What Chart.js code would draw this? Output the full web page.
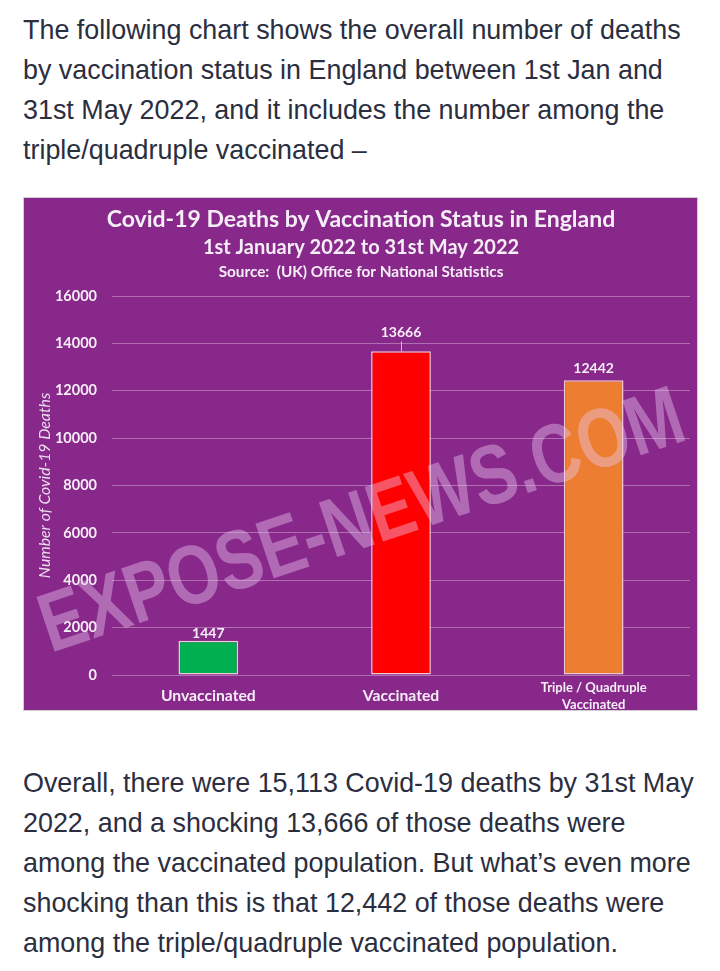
<!DOCTYPE html>
<html>
<head>
<meta charset="utf-8">
<script src="https://cdn.jsdelivr.net/npm/chart.js@4/dist/chart.umd.min.js"></script>
<style>
  html, body { margin: 0; padding: 0; background: #ffffff; }
  body { width: 720px; height: 971px; position: relative; overflow: hidden; }
  .txt {
    position: absolute; left: 23px; margin: 0;
    font-family: "Liberation Sans", Arial, sans-serif;
    font-size: 26.9px; line-height: 40px; color: #2b2e3f; white-space: nowrap;
  }
  #p1 { top: 10px; }
  #p2 { top: 763px; }
  #box {
    position: absolute; left: 23px; top: 197px; width: 673px; height: 512px;
    border: 1px solid #cfcfcf; background: #87288a;
  }
  #box canvas { display: block; }
</style>
</head>
<body>
<p class="txt" id="p1">The following chart shows the overall number of deaths<br>by vaccination status in England between 1st Jan and<br>31st May 2022, and it includes the number among the<br>triple/quadruple vaccinated –</p>
<div id="box"><canvas id="c" width="673" height="512"></canvas></div>
<p class="txt" id="p2">Overall, there were 15,113 Covid-19 deaths by 31st May<br>2022, and a shocking 13,666 of those deaths were<br>among the vaccinated population. But what’s even more<br>shocking than this is that 12,442 of those deaths were<br>among the triple/quadruple vaccinated population.</p>
<script>
// ---- data ----
const categories = ["Unvaccinated", "Vaccinated", ["Triple / Quadruple", "Vaccinated"]];
const deaths = [1447, 13666, 12442];
const barColors = ["#00b050", "#ff0000", "#ed7d31"];
const titleLines = [
  "Covid-19 Deaths by Vaccination Status in England",
  "1st January 2022 to 31st May 2022",
  "Source:  (UK) Office for National Statistics"
];
const yAxisTitle = "Number of Covid-19 Deaths";
const watermarkText = "EXPOSE-NEWS.COM";

const FONT = "Lato, 'Open Sans', sans-serif";
const TXT = "#f6eef6";

const headerPlugin = {
  id: "header",
  afterDraw(chart) {
    const ctx = chart.ctx;
    const cx = chart.width / 2 + 0.5;
    const specs = [
      { size: 23, y: 22 },
      { size: 20, y: 50 },
      { size: 15.3, y: 74 }
    ];
    ctx.save();
    ctx.fillStyle = TXT;
    ctx.textAlign = "center";
    ctx.textBaseline = "middle";
    titleLines.forEach((t, i) => {
      ctx.font = "bold " + specs[i].size + "px " + FONT;
      ctx.fillText(t, cx, specs[i].y);
    });
    ctx.restore();
  }
};

const valueLabelPlugin = {
  id: "valueLabels",
  afterDatasetsDraw(chart, args, opts) {
    const ctx = chart.ctx;
    const meta = chart.getDatasetMeta(0);
    const offs = opts.offsets || [];
    ctx.save();
    ctx.fillStyle = TXT;
    ctx.font = "bold 14px " + FONT;
    ctx.textAlign = "center";
    ctx.textBaseline = "middle";
    meta.data.forEach((bar, i) => {
      const off = offs[i] || 10;
      const v = chart.data.datasets[0].data[i];
      ctx.fillText(String(v), bar.x, bar.y - off);
      if (off > 15) {
        ctx.strokeStyle = "rgba(255,230,240,0.7)";
        ctx.lineWidth = 1;
        ctx.beginPath();
        ctx.moveTo(bar.x + 0.5, bar.y - off + 9);
        ctx.lineTo(bar.x + 0.5, bar.y);
        ctx.stroke();
      }
    });
    ctx.restore();
  }
};

const watermarkPlugin = {
  id: "watermark",
  afterDraw(chart) {
    const ctx = chart.ctx;
    ctx.save();
    ctx.translate(346, 348);
    ctx.rotate(-18.5 * Math.PI / 180);
    ctx.scale(1, 1.25);
    ctx.font = "bold 67px 'Liberation Sans', Arial, sans-serif";
    ctx.textAlign = "center";
    ctx.textBaseline = "alphabetic";
    ctx.fillStyle = "rgba(235, 200, 240, 0.42)";
    ctx.fillText(watermarkText, 0, 0);
    ctx.restore();
  }
};

new Chart(document.getElementById("c"), {
  type: "bar",
  data: {
    labels: categories,
    datasets: [{
      data: deaths,
      backgroundColor: barColors,
      borderColor: "#f3c9d3",
      borderWidth: 1.5,
      borderSkipped: false,
      barPercentage: 0.31,
      categoryPercentage: 1.0
    }]
  },
  options: {
    responsive: false,
    animation: false,
    devicePixelRatio: 1,
    layout: { padding: { top: 98, right: 7, bottom: 0, left: 0 } },
    plugins: {
      legend: { display: false },
      tooltip: { enabled: false },
      title: { display: false },
      valueLabels: { offsets: [7, 19, 12] }
    },
    scales: {
      x: {
        grid: { display: false, drawTicks: false },
        border: { display: false },
        ticks: {
          color: TXT,
          padding: 13,
          crossAlign: "center",
          maxRotation: 0,
          autoSkip: false,
          font: (c) => c.index === 2
            ? { family: FONT, size: 13, weight: "bold", lineHeight: 1.3 }
            : { family: FONT, size: 15.7, weight: "bold", lineHeight: 1.2 }
        },
        afterFit(scale) { scale.height = 35; }
      },
      y: {
        min: 0,
        max: 16000,
        grid: { color: "rgba(255,255,255,0.33)", lineWidth: 1, drawTicks: false },
        border: { display: false },
        ticks: {
          stepSize: 2000,
          color: TXT,
          padding: 15,
          callback: (v) => String(v),
          font: { family: FONT, size: 14.5, weight: "bold" }
        },
        title: {
          display: true,
          text: yAxisTitle,
          color: "#ecdcef",
          padding: { top: 11, bottom: 0 },
          font: { family: FONT, size: 15.8, style: "italic" }
        },
        afterFit(scale) { scale.width = 88; }
      }
    }
  },
  plugins: [headerPlugin, valueLabelPlugin, watermarkPlugin]
});
</script>
</body>
</html>
